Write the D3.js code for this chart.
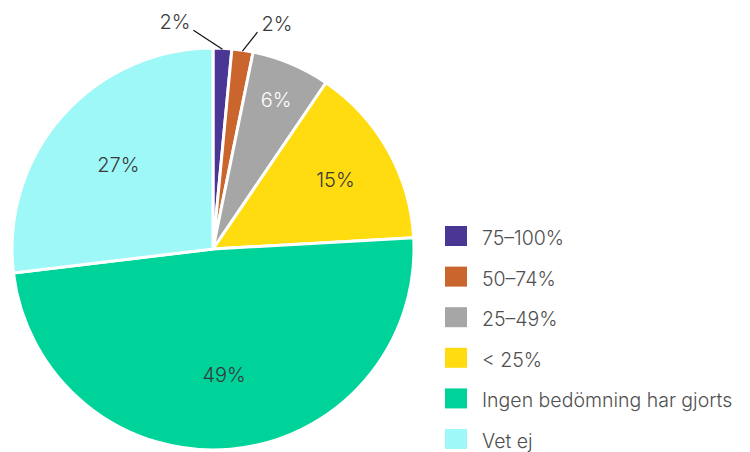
<!DOCTYPE html>
<html>
<head>
<meta charset="utf-8">
<script src="https://cdn.jsdelivr.net/npm/d3@7"></script>
<style>
  html, body { margin: 0; padding: 0; background: #fff; }
  svg { display: block; font-family: Inter, "Noto Sans", sans-serif; font-weight: 350; }
</style>
</head>
<body>
<div id="chart"></div>
<script>
// data
const categories = ["75–100%", "50–74%", "25–49%", "< 25%", "Ingen bedömning har gjorts", "Vet ej"];
const values = [1.5, 1.7, 6.3, 14.6, 49.0, 26.9];
const labels = ["2%", "2%", "6%", "15%", "49%", "27%"];
const colors = ["#4a3795", "#c9652d", "#a6a6a6", "#ffdc10", "#00d39a", "#9ef8f8"];

const W = 750, H = 452;
const cx = 213, cy = 249, R = 201;

const svg = d3.select("#chart").append("svg")
    .attr("width", W)
    .attr("height", H);

const data = categories.map((c, i) => ({ cat: c, value: values[i], label: labels[i], color: colors[i] }));

const pie = d3.pie().sort(null).value(d => d.value);
const arcs = pie(data);
const total = d3.sum(values);

const arc = d3.arc().innerRadius(0).outerRadius(R);

// narrower slices push their label further out
const labelR = d => R * (0.63 + 1.3 * Math.max(0, 0.2 - d.data.value / total));

const g = svg.append("g").attr("transform", `translate(${cx},${cy})`);

g.selectAll("path")
    .data(arcs)
    .join("path")
    .attr("d", arc)
    .attr("fill", d => d.data.color)
    .attr("stroke", "#fff")
    .attr("stroke-width", 3)
    .attr("stroke-linejoin", "round");

// labels inside the bigger slices
g.selectAll(".lbl")
    .data(arcs.filter(d => d.data.value > 4))
    .join("text")
    .attr("class", "lbl")
    .attr("transform", d => {
        const r = labelR(d);
        return `translate(${d3.arc().innerRadius(r).outerRadius(r).centroid(d)})`;
    })
    .attr("text-anchor", "middle")
    .attr("dy", "0.36em")
    .style("font-size", "20px")
    .style("fill", d => d.data.cat === "25–49%" ? "#fff" : "#3a3a3a")
    .text(d => d.data.label);

// small slices get leader lines
const small = arcs.filter(d => d.data.value <= 4);
const outer = d3.arc().innerRadius(R - 1).outerRadius(R - 1);
small.forEach((d, i) => {
    const [x0, y0] = outer.centroid(d);
    const x1 = i === 0 ? x0 - 29 : x0 + 15;
    const y1 = y0 - 19;
    g.append("line")
        .attr("x1", x0).attr("y1", y0)
        .attr("x2", x1).attr("y2", y1)
        .attr("stroke", "#111")
        .attr("stroke-width", 1.2);
    g.append("text")
        .attr("x", i === 0 ? x1 - 3 : x1 + 4)
        .attr("y", y1 - 1)
        .attr("text-anchor", i === 0 ? "end" : "start")
        .style("font-size", "20px")
        .style("fill", "#3a3a3a")
        .text(d.data.label);
});

// legend
const legend = svg.append("g").attr("transform", "translate(445,226)");
const row = legend.selectAll("g")
    .data(data)
    .join("g")
    .attr("transform", (d, i) => `translate(0,${i * 40.6})`);

row.append("rect")
    .attr("width", 22)
    .attr("height", 20)
    .attr("fill", d => d.color);

row.append("text")
    .attr("x", 37)
    .attr("y", 19)
    .style("font-size", "19.5px")
    .style("fill", "#505050")
    .text(d => d.cat);
</script>
</body>
</html>
